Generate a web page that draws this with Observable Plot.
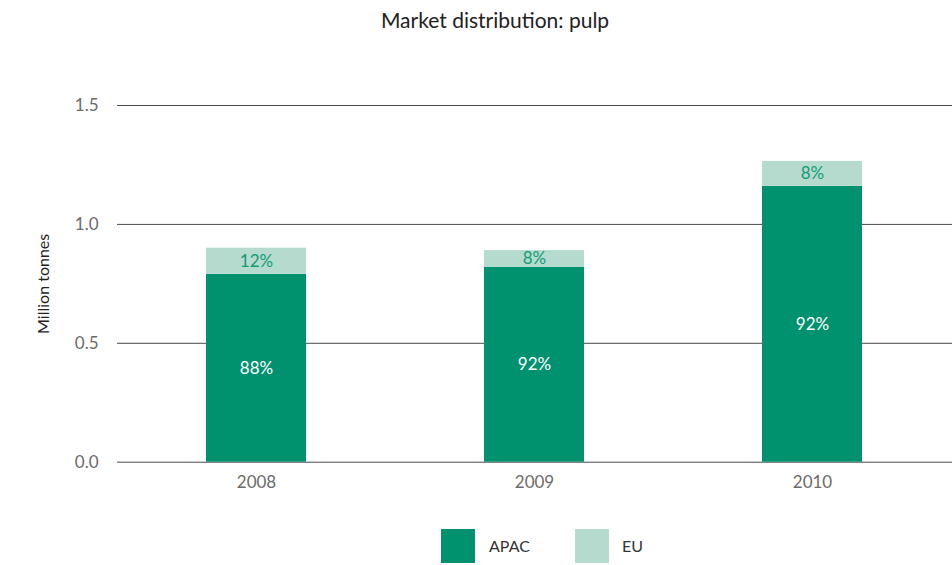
<!DOCTYPE html>
<html>
<head>
<meta charset="utf-8">
<script src="https://cdn.jsdelivr.net/npm/d3@7"></script>
<script src="https://cdn.jsdelivr.net/npm/@observablehq/plot@0.6"></script>
<style>
  html, body { margin: 0; padding: 0; background: #fff; overflow: hidden; }
  body { width: 952px; height: 565px; font-family: Lato, "Open Sans", sans-serif; }
  #title { box-sizing: border-box; width: 952px; height: 40px; line-height: 40px; padding-left: 38px;
           text-align: center; font-size: 21px; color: #222; }
  #legend { position: relative; width: 952px; height: 65px; }
  .sw { position: absolute; top: 29px; width: 34px; height: 34px; }
  .lt { position: absolute; top: 29px; height: 34px; line-height: 34px; font-size: 16px; color: #333; }
</style>
</head>
<body>
<div id="title">Market distribution: pulp</div>
<div id="chart"></div>
<div id="legend"></div>
<script>
const years = ["2008", "2009", "2010"];
const series = ["APAC", "EU"];
const apacValues = [0.79, 0.82, 1.16];
const euValues = [0.11, 0.07, 0.105];
const apacLabels = ["88%", "92%", "92%"];
const euLabels = ["12%", "8%", "8%"];
const yTicks = [0, 0.5, 1.0, 1.5];
const colors = ["#00916e", "#b5dbcf"];

const rows = [];
years.forEach((yr, i) => rows.push({year: yr, series: "APAC", value: apacValues[i], label: apacLabels[i]}));
years.forEach((yr, i) => rows.push({year: yr, series: "EU", value: euValues[i], label: euLabels[i]}));

const chart = Plot.plot({
  width: 952,
  height: 460,
  marginTop: 65,
  marginBottom: 38.3,
  marginLeft: 117,
  marginRight: 0,
  style: {fontFamily: "Lato, 'Open Sans', sans-serif", fontSize: "17px", color: "#6b6b6b", background: "white"},
  x: {domain: years, paddingInner: 0.64, paddingOuter: 0.32, tickSize: 0, tickPadding: 14, label: null},
  y: {domain: [0, 1.5], ticks: yTicks, tickFormat: d3.format(".1f"), tickSize: 0, tickPadding: 19, label: null},
  color: {domain: series, range: colors},
  marks: [
    Plot.ruleY(yTicks, {stroke: "#4a4a4a", strokeWidth: 1}),
    Plot.barY(rows, Plot.stackY({x: "year", y: "value", z: "series", fill: "series"})),
    Plot.textY(rows, Plot.stackY({x: "year", y: "value", z: "series",
      text: d => d.series === "APAC" ? d.label : null, fill: "white", fontSize: 17})),
    Plot.textY(rows, Plot.stackY({x: "year", y: "value", z: "series",
      text: d => d.series === "EU" ? d.label : null, fill: "#149a75", fontSize: 17})),
    Plot.text(["Million tonnes"], {frameAnchor: "left", textAnchor: "middle", dx: -74, rotate: -90, fill: "#222", fontSize: 16})
  ]
});
document.getElementById("chart").appendChild(chart);

const legend = document.getElementById("legend");
const legendPos = [{sx: 441, tx: 489}, {sx: 575, tx: 622}];
series.forEach((s, i) => {
  const sw = document.createElement("div");
  sw.className = "sw";
  sw.style.left = legendPos[i].sx + "px";
  sw.style.background = colors[i];
  legend.appendChild(sw);
  const t = document.createElement("div");
  t.className = "lt";
  t.style.left = legendPos[i].tx + "px";
  t.textContent = s;
  legend.appendChild(t);
});
</script>
</body>
</html>
